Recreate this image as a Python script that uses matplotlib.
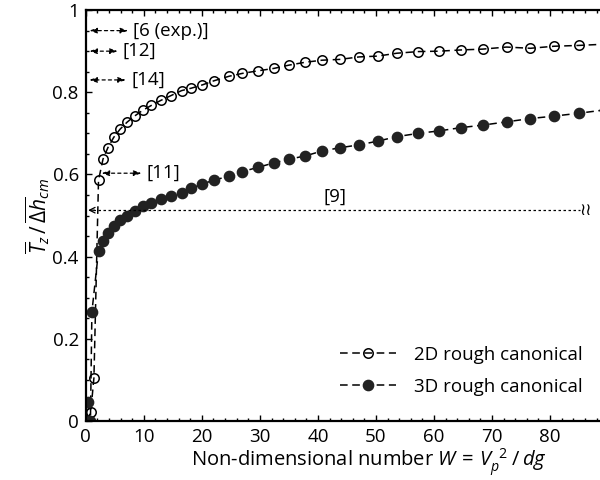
import matplotlib
matplotlib.use("Agg")
import matplotlib.pyplot as plt
from matplotlib.ticker import MultipleLocator

plt.rcParams['font.family'] = ['Open Sans', 'DejaVu Sans']
plt.rcParams['mathtext.fontset'] = 'custom'
plt.rcParams['mathtext.rm'] = 'Open Sans'
plt.rcParams['mathtext.it'] = 'Open Sans:italic'

# 2D rough canonical (open circles)
x2d = [0.3, 0.85, 1.4, 2.19, 2.96, 3.8, 4.8, 5.9, 7.1, 8.4, 9.8, 11.3, 12.9, 14.7,
       16.5, 18.2, 20.1, 22.1, 24.7, 27.0, 29.6, 32.4, 35.0, 37.8, 40.7, 43.8,
       47.1, 50.3, 53.6, 57.3, 60.9, 64.7, 68.4, 72.5, 76.6, 80.7, 85.0, 89.4]
y2d = [0.0, 0.022, 0.105, 0.586, 0.637, 0.665, 0.69, 0.71, 0.727, 0.742, 0.756,
       0.768, 0.78, 0.792, 0.804, 0.810, 0.818, 0.828, 0.839, 0.846, 0.852,
       0.858, 0.866, 0.873, 0.878, 0.880, 0.886, 0.888, 0.895, 0.899, 0.900,
       0.903, 0.905, 0.910, 0.907, 0.912, 0.914, 0.917]

# 3D rough canonical (filled circles)
x3d = [0.3, 0.8, 1.05, 2.19, 2.96, 3.8, 4.8, 5.9, 7.1, 8.4, 9.8, 11.3, 12.9, 14.7,
       16.5, 18.2, 20.1, 22.1, 24.7, 27.0, 29.6, 32.4, 35.0, 37.8, 40.7, 43.8,
       47.1, 50.3, 53.6, 57.3, 60.9, 64.7, 68.4, 72.5, 76.6, 80.7, 85.0, 89.4]
y3d = [0.045, 0.0, 0.265, 0.414, 0.438, 0.458, 0.474, 0.488, 0.500, 0.512, 0.522,
       0.531, 0.540, 0.548, 0.555, 0.566, 0.577, 0.586, 0.596, 0.607, 0.617,
       0.628, 0.637, 0.645, 0.657, 0.665, 0.672, 0.681, 0.692, 0.700, 0.706,
       0.714, 0.720, 0.728, 0.736, 0.742, 0.749, 0.757]

# reference ranges: (label, y level, arrow start x, arrow end x)
refs = [("[6 (exp.)]", 0.95, 0.6, 7.3),
        ("[12]", 0.90, 0.6, 5.5),
        ("[14]", 0.83, 0.6, 6.9),
        ("[11]", 0.603, 2.7, 9.6)]
ref9_y = 0.513

fig = plt.figure(figsize=(6, 4.8), dpi=100)
ax = fig.add_axes([0.143, 0.123, 0.857, 0.856])

ax.plot(x2d, y2d, ls=(0, (5, 3)), color='black', lw=1.1, marker='o', ms=6.8,
        mfc='none', mec='black', mew=1.1, label='2D rough canonical')
ax.plot(x3d, y3d, ls=(0, (5, 3)), color='black', lw=1.1, marker='o', ms=7.4,
        mfc='#222222', mec='#222222', label='3D rough canonical')

for lab, yv, xs, xe in refs:
    ax.annotate('', xy=(xs, yv), xytext=(xe, yv),
                arrowprops=dict(arrowstyle='<|-|>,head_length=0.45,head_width=0.16',
                                ls=(0, (2.5, 2.5)), lw=0.9, color='black',
                                shrinkA=0, shrinkB=0))
    ax.text(xe + 0.9, yv, lab, fontsize=13.5, va='center', ha='left')

ax.plot([1.2, 85.2], [ref9_y, ref9_y], ls=(0, (2, 2)), color='black', lw=0.9)
ax.annotate('', xy=(0.4, ref9_y), xytext=(1.5, ref9_y),
            arrowprops=dict(arrowstyle='->,head_length=0.4,head_width=0.2',
                            lw=0.9, color='black', shrinkA=0, shrinkB=0))
ax.text(43.0, ref9_y + 0.033, "[9]", fontsize=13.5, ha='center', va='center')
ax.text(85.0, ref9_y, "\u2240\u2240", fontsize=12, ha='left', va='center',
        family=['DejaVu Sans'])

ax.set_xlim(0, 88.6)
ax.set_ylim(0, 1)
ax.xaxis.set_major_locator(MultipleLocator(10))
ax.xaxis.set_minor_locator(MultipleLocator(2))
ax.yaxis.set_major_locator(MultipleLocator(0.2))
ax.yaxis.set_minor_locator(MultipleLocator(0.05))
ax.set_yticks([0, 0.2, 0.4, 0.6, 0.8, 1.0])
ax.set_yticklabels(['0', '0.2', '0.4', '0.6', '0.8', '1'])
ax.tick_params(which='both', direction='in', top=True, right=False,
               labelsize=13.5, width=1)
ax.tick_params(axis='x', which='major', pad=5)
ax.tick_params(axis='y', which='major', pad=5)
ax.tick_params(which='major', length=4)
ax.tick_params(which='minor', length=2)
ax.spines['right'].set_visible(False)
for s in ['left', 'bottom', 'top']:
    ax.spines[s].set_linewidth(1.6)

ax.set_xlabel(r"Non-dimensional number $W\,=\,V_p^{\;\;2}\;/\,dg$", fontsize=14.5, labelpad=0)
ax.xaxis.set_label_coords(0.55, -0.062)
ax.set_ylabel(r"$\overline{T}_z\,/\,\overline{\Delta h}_{cm}$", fontsize=15, labelpad=0)

ax.legend(loc='lower right', bbox_to_anchor=(1.0, 0.02), frameon=False,
          fontsize=13.5, handlelength=3.0, handletextpad=1.0, labelspacing=0.75)

fig.savefig("out.png", dpi=100)
